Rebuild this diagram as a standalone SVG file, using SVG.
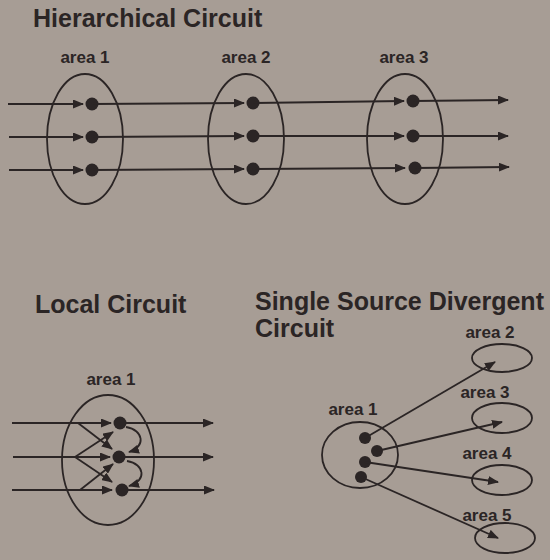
<svg xmlns="http://www.w3.org/2000/svg" width="550" height="560" viewBox="0 0 550 560">
<defs>
<marker id="ah" markerUnits="userSpaceOnUse" markerWidth="11" markerHeight="9" refX="10" refY="4.5" orient="auto" viewBox="0 0 11 9">
<path d="M0,0 L11,4.5 L0,9 z" fill="#2b2525"/>
</marker>
</defs>
<style>
.title{font-family:"Liberation Sans",Arial,sans-serif;font-weight:bold;font-size:25px;fill:#2b2525}
.lbl{font-family:"Liberation Sans",Arial,sans-serif;font-weight:bold;font-size:17px;fill:#2b2525;text-anchor:middle}
.area{fill:none;stroke:#2b2525;stroke-width:1.8}
.dot{fill:#2b2525}
.conn line,.conn path{stroke:#2b2525;stroke-width:1.8;fill:none;marker-end:url(#ah)}
</style>
<rect width="550" height="560" fill="#a79d95"/>

<text class="title" x="33" y="27">Hierarchical Circuit</text>
<text class="title" x="35" y="313">Local Circuit</text>
<text class="title" x="255" y="310">Single Source Divergent</text>
<text class="title" x="255" y="337">Circuit</text>

<!-- Hierarchical -->
<g id="h-area1">
<text class="lbl" x="85" y="63">area 1</text>
<ellipse class="area" cx="85" cy="139" rx="38" ry="65"/>
<circle class="dot" cx="92" cy="104" r="6.5"/>
<circle class="dot" cx="92" cy="137" r="6.5"/>
<circle class="dot" cx="92" cy="170" r="6.5"/>
</g>
<g id="h-area2">
<text class="lbl" x="246" y="63">area 2</text>
<ellipse class="area" cx="246" cy="139" rx="38" ry="65"/>
<circle class="dot" cx="253" cy="103" r="6.5"/>
<circle class="dot" cx="253" cy="136" r="6.5"/>
<circle class="dot" cx="253" cy="169" r="6.5"/>
</g>
<g id="h-area3">
<text class="lbl" x="404" y="63">area 3</text>
<ellipse class="area" cx="405" cy="139" rx="38" ry="65"/>
<circle class="dot" cx="413" cy="101" r="6.5"/>
<circle class="dot" cx="413" cy="136" r="6.5"/>
<circle class="dot" cx="415" cy="168" r="6.5"/>
</g>

<!-- Local -->
<g id="l-area1">
<text class="lbl" x="111" y="385">area 1</text>
<ellipse class="area" cx="108" cy="460" rx="46" ry="65"/>
<circle class="dot" cx="120" cy="423" r="6.5"/>
<circle class="dot" cx="119" cy="457" r="6.5"/>
<circle class="dot" cx="122" cy="490" r="6.5"/>
</g>

<!-- Divergent -->
<g id="d-area1">
<text class="lbl" x="353" y="415">area 1</text>
<ellipse class="area" cx="360" cy="455" rx="38" ry="33"/>
<circle class="dot" cx="365" cy="438" r="6"/>
<circle class="dot" cx="377" cy="451" r="6"/>
<circle class="dot" cx="365" cy="462" r="6"/>
<circle class="dot" cx="361" cy="477" r="6"/>
</g>
<g id="d-area2">
<text class="lbl" x="490" y="338">area 2</text>
<ellipse class="area" cx="502" cy="358" rx="30" ry="14"/>
</g>
<g id="d-area3">
<text class="lbl" x="485" y="398">area 3</text>
<ellipse class="area" cx="502" cy="418" rx="30" ry="15"/>
</g>
<g id="d-area4">
<text class="lbl" x="487" y="459">area 4</text>
<ellipse class="area" cx="502" cy="480" rx="30" ry="15"/>
</g>
<g id="d-area5">
<text class="lbl" x="487" y="521">area 5</text>
<ellipse class="area" cx="505" cy="538" rx="30" ry="15"/>
</g>

<g id="connectors" class="conn">
<!-- hierarchical -->
<line x1="8" y1="104" x2="83" y2="104"/>
<line x1="9" y1="137" x2="83" y2="137"/>
<line x1="9" y1="170" x2="83" y2="170"/>
<line x1="92" y1="104" x2="244" y2="103"/>
<line x1="92" y1="137" x2="244" y2="136"/>
<line x1="92" y1="170" x2="244" y2="169"/>
<line x1="253" y1="103" x2="404" y2="101"/>
<line x1="253" y1="136" x2="404" y2="136"/>
<line x1="253" y1="169" x2="405" y2="168"/>
<line x1="413" y1="101" x2="508" y2="100"/>
<line x1="413" y1="136" x2="508" y2="136"/>
<line x1="415" y1="168" x2="509" y2="167"/>
<!-- local -->
<line x1="12" y1="423" x2="111" y2="423"/>
<line x1="13" y1="457" x2="110" y2="457"/>
<line x1="12" y1="490" x2="112" y2="490"/>
<line x1="120" y1="423" x2="213" y2="423"/>
<line x1="119" y1="457" x2="213" y2="457"/>
<line x1="122" y1="490" x2="214" y2="490"/>
<line x1="78" y1="423" x2="112" y2="449"/>
<line x1="75" y1="457" x2="113" y2="432"/>
<line x1="75" y1="457" x2="112" y2="482"/>
<line x1="80" y1="490" x2="113" y2="464"/>
<path d="M126,427 C144,430 146,447 129,452"/>
<path d="M127,461 C145,464 147,481 129,486"/>
<!-- divergent -->
<line x1="365" y1="438" x2="495" y2="362"/>
<line x1="377" y1="451" x2="502" y2="422"/>
<line x1="365" y1="462" x2="498" y2="482"/>
<line x1="361" y1="477" x2="498" y2="538"/>
</g>
</svg>
